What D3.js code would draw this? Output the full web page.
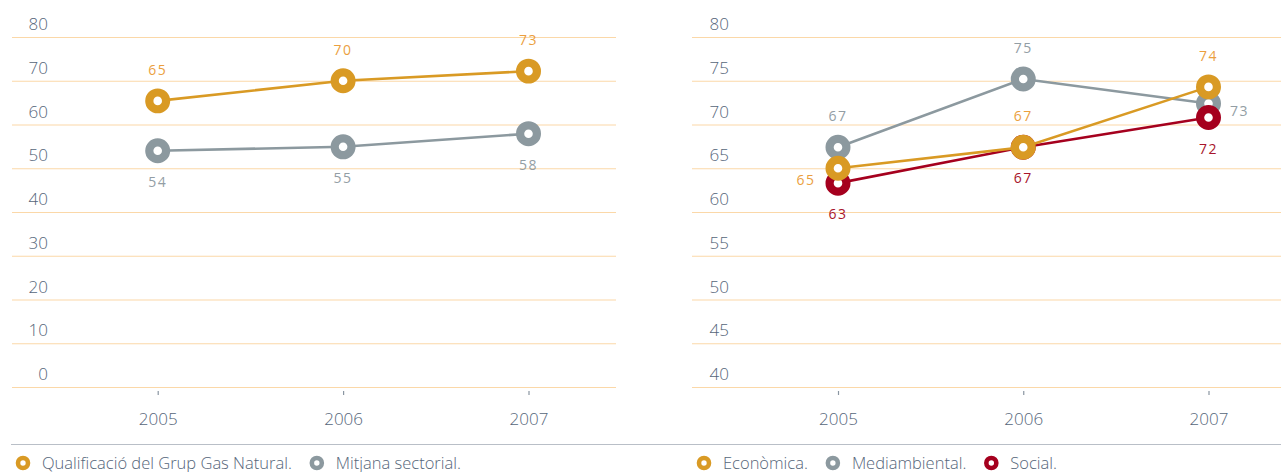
<!DOCTYPE html>
<html>
<head>
<meta charset="utf-8">
<script src="https://cdn.jsdelivr.net/npm/d3@7"></script>
<style>
  body { margin: 0; background: #fff; }
  svg { display: block; font-family: 'Open Sans', Lato, sans-serif; font-weight: 300; }
</style>
</head>
<body>
<div id="chart"></div>
<script>
// Data
const years = [2005, 2006, 2007];

// left panel
const leftTicks = [0, 10, 20, 30, 40, 50, 60, 70, 80];
const grupValues = [65.4, 70, 72.2];
const grupLabels = [65, 70, 73];
const sectorValues = [54, 54.9, 57.9];
const sectorLabels = [54, 55, 58];

// right panel
const rightTicks = [40, 45, 50, 55, 60, 65, 70, 75, 80];
const mediValues = [67.4, 75.2, 72.4];
const mediLabels = [67, 75, 73];
const socialValues = [63.3, 67.4, 70.8];
const socialLabels = [63, 67, 72];
const econValues = [65, 67.4, 74.3];
const econLabels = [65, 67, 74];

const colors = {
  orange: '#d99a24',
  orangeText: '#eb9f3f',
  gray: '#8c999f',
  grayText: '#939ea5',
  red: '#a5001e',
  redText: '#a8152c',
  axisText: '#56667a',
  grid: '#fbd8a8',
  rule: '#b9bfc7'
};

const W = 1281, H = 472;
const svg = d3.select('#chart').append('svg').attr('width', W).attr('height', H);

// separator rule above the legends
svg.append('line')
  .attr('x1', 11).attr('x2', W)
  .attr('y1', 444.5).attr('y2', 444.5)
  .attr('stroke', colors.rule).attr('stroke-width', 1.2);

function drawPanel(opts) {
  const { left, right, labelX, xRange, domain, ticks, series } = opts;
  const g = svg.append('g');

  const x = d3.scaleLinear().domain([years[0], years[years.length - 1]]).range(xRange);
  const y = d3.scaleLinear().domain(domain).range([387, 37]);

  // Y gridlines + labels (labels sit just above their line)
  g.append('g')
    .attr('transform', `translate(${left},0)`)
    .call(d3.axisLeft(y).tickValues(ticks).tickSize(-(right - left)).tickFormat(d3.format('d')))
    .attr('font-family', null)
    .attr('font-size', 17)
    .call((a) => a.select('.domain').remove())
    .call((a) => a.selectAll('.tick line').attr('stroke', colors.grid).attr('stroke-width', 1.2))
    .call((a) =>
      a.selectAll('.tick text')
        .attr('x', labelX - left)
        .attr('dy', -7.5)
        .attr('text-anchor', 'end')
        .attr('fill', colors.axisText)
    );

  // X axis
  g.append('g')
    .attr('transform', 'translate(0,391)')
    .call(d3.axisBottom(x).tickValues(years).tickSize(4).tickFormat(d3.format('d')))
    .attr('font-family', null)
    .attr('font-size', 17)
    .call((a) => a.select('.domain').remove())
    .call((a) => a.selectAll('.tick line').attr('stroke', '#8a96a2').attr('stroke-width', 1.2))
    .call((a) =>
      a.selectAll('.tick text')
        .attr('y', 34)
        .attr('dy', 0)
        .attr('fill', colors.axisText)
    );

  const line = d3.line().x((d, i) => x(years[i])).y((d) => y(d));

  series.forEach((s) => {
    g.append('path')
      .datum(s.values)
      .attr('d', line)
      .attr('fill', 'none')
      .attr('stroke', s.color)
      .attr('stroke-width', 2.6);

    g.append('g')
      .selectAll('circle')
      .data(s.values)
      .join('circle')
      .attr('cx', (d, i) => x(years[i]))
      .attr('cy', (d) => y(d))
      .attr('r', 8.4)
      .attr('fill', '#fff')
      .attr('stroke', s.color)
      .attr('stroke-width', 8.2);
  });

  // value labels drawn last so they stay on top
  series.forEach((s) => {
    g.append('g')
      .selectAll('text')
      .data(s.values)
      .join('text')
      .attr('x', (d, i) => {
        const side = s.sides[i];
        if (side === 'left') return x(years[i]) - 32;
        if (side === 'right') return x(years[i]) + 31;
        return x(years[i]);
      })
      .attr('y', (d, i) => {
        const side = s.sides[i];
        if (side === 'above') return y(d) - 26;
        if (side === 'below') return y(d) + 36;
        if (side === 'left') return y(d) + 17;
        return y(d) + 12;
      })
      .attr('text-anchor', 'middle')
      .attr('font-size', 14)
      .attr('font-weight', 400)
      .attr('letter-spacing', 1.5)
      .attr('fill', s.textColor)
      .text((d, i) => s.labels[i]);
  });
}

drawPanel({
  left: 12, right: 616, labelX: 48,
  xRange: [157.7, 528.5],
  domain: [0, 80], ticks: leftTicks,
  series: [
    { values: sectorValues, labels: sectorLabels, color: colors.gray, textColor: colors.grayText,
      sides: ['below', 'below', 'below'] },
    { values: grupValues, labels: grupLabels, color: colors.orange, textColor: colors.orangeText,
      sides: ['above', 'above', 'above'] }
  ]
});

drawPanel({
  left: 692, right: W, labelX: 729,
  xRange: [838, 1208.5],
  domain: [40, 80], ticks: rightTicks,
  series: [
    { values: mediValues, labels: mediLabels, color: colors.gray, textColor: colors.grayText,
      sides: ['above', 'above', 'right'] },
    { values: socialValues, labels: socialLabels, color: colors.red, textColor: colors.redText,
      sides: ['below', 'below', 'below'] },
    { values: econValues, labels: econLabels, color: colors.orange, textColor: colors.orangeText,
      sides: ['left', 'above', 'above'] }
  ]
});

// Legends
function drawLegend(x0, items) {
  const g = svg.append('g').attr('transform', 'translate(0,463)');
  let cx = x0;
  items.forEach((it) => {
    g.append('circle')
      .attr('cx', cx).attr('cy', 0).attr('r', 5)
      .attr('fill', '#fff').attr('stroke', it.color).attr('stroke-width', 4.6);
    const t = g.append('text')
      .attr('x', cx + 19).attr('y', 5.5)
      .attr('font-size', 16.5)
      .attr('fill', colors.axisText)
      .text(it.name);
    cx += 19 + t.node().getComputedTextLength() + 25;
  });
}

drawLegend(23, [
  { name: 'Qualificació del Grup Gas Natural.', color: colors.orange },
  { name: 'Mitjana sectorial.', color: colors.gray }
]);

drawLegend(704, [
  { name: 'Econòmica.', color: colors.orange },
  { name: 'Mediambiental.', color: colors.gray },
  { name: 'Social.', color: colors.red }
]);
</script>
</body>
</html>
